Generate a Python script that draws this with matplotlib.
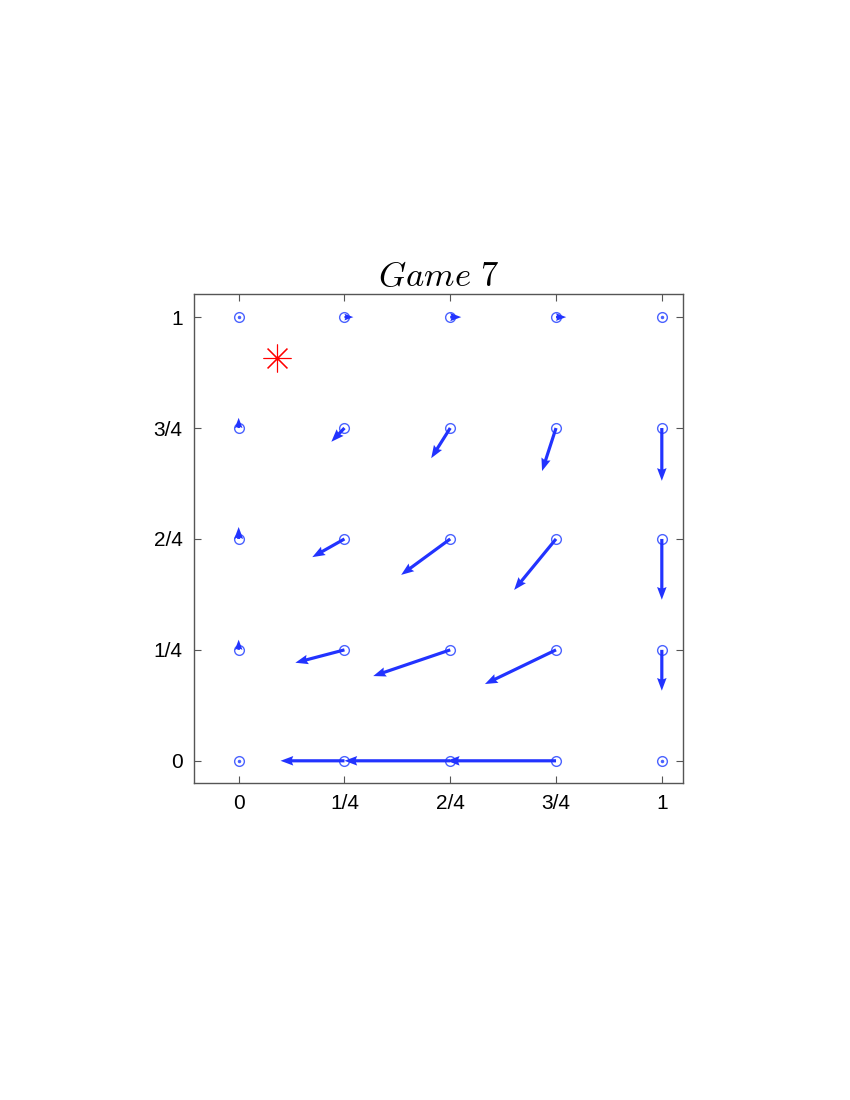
import numpy as np
import matplotlib
matplotlib.use("Agg")
import matplotlib.pyplot as plt

plt.rcParams['mathtext.fontset'] = 'cm'

# Grid points
grid = [0, 0.25, 0.5, 0.75, 1.0]
tick_labels = ["0", "1/4", "2/4", "3/4", "1"]

# Vector components (u, v) per row (y value), columns x = 0..1
u_rows = {
    1.0:  [0.0, 0.021, 0.026, 0.024, 0.0],
    0.75: [0.0, -0.031, -0.045, -0.033, 0.0],
    0.5:  [0.0, -0.076, -0.116, -0.099, 0.0],
    0.25: [0.0, -0.116, -0.182, -0.168, 0.0],
    0.0:  [0.0, -0.151, -0.250, -0.258, 0.0],
}
v_rows = {
    1.0:  [0.0, 0.0, 0.0, 0.0, 0.0],
    0.75: [0.023, -0.031, -0.068, -0.097, -0.119],
    0.5:  [0.027, -0.041, -0.081, -0.115, -0.137],
    0.25: [0.023, -0.029, -0.059, -0.077, -0.092],
    0.0:  [0.0, 0.0, 0.0, 0.0, 0.0],
}
star_x = [0.09]
star_y = [0.908]

X, Y, U, V = [], [], [], []
for yv in grid:
    for i, xv in enumerate(grid):
        X.append(xv); Y.append(yv)
        U.append(u_rows[yv][i]); V.append(v_rows[yv][i])
X, Y, U, V = map(np.array, (X, Y, U, V))

fig = plt.figure(figsize=(8.5, 11), dpi=100)
ax = fig.add_axes([0.228, 0.2882, 0.5755, 0.4445])

circ_col = "#4a62ff"
arr_col = "#2233ff"

ax.plot(X, Y, 'o', ms=7, mfc='none', mec=circ_col, mew=1.0, zorder=2)
zero = (U == 0) & (V == 0)
ax.plot(X[zero], Y[zero], '.', ms=3, color=circ_col, zorder=3)
nz = ~zero
ax.quiver(X[nz], Y[nz], U[nz], V[nz], angles='xy', scale_units='xy', scale=1,
          color=arr_col, width=0.0065, headwidth=3.0, headlength=4.0,
          headaxislength=3.6, zorder=4)

ax.plot(star_x, star_y, marker=(8, 2, 0), ms=20, mew=0.8, color='red',
        linestyle='none', zorder=5)

ax.set_xlim(-0.106, 1.05)
ax.set_ylim(-0.05, 1.052)
ax.set_xticks(grid)
ax.set_xticklabels(tick_labels)
ax.set_yticks(grid)
ax.set_yticklabels(tick_labels)
ax.tick_params(direction='in', top=True, right=True, length=5, width=0.8,
               colors='#555555', labelcolor='black', labelsize=15, pad=8)
for lab in ax.get_xticklabels() + ax.get_yticklabels():
    lab.set_fontfamily('Liberation Sans')
for s in ax.spines.values():
    s.set_color('#555555')
    s.set_linewidth(1.0)

ax.set_title(r'$Game\ 7$', fontsize=25, pad=6)

fig.savefig("out.png", dpi=100)
